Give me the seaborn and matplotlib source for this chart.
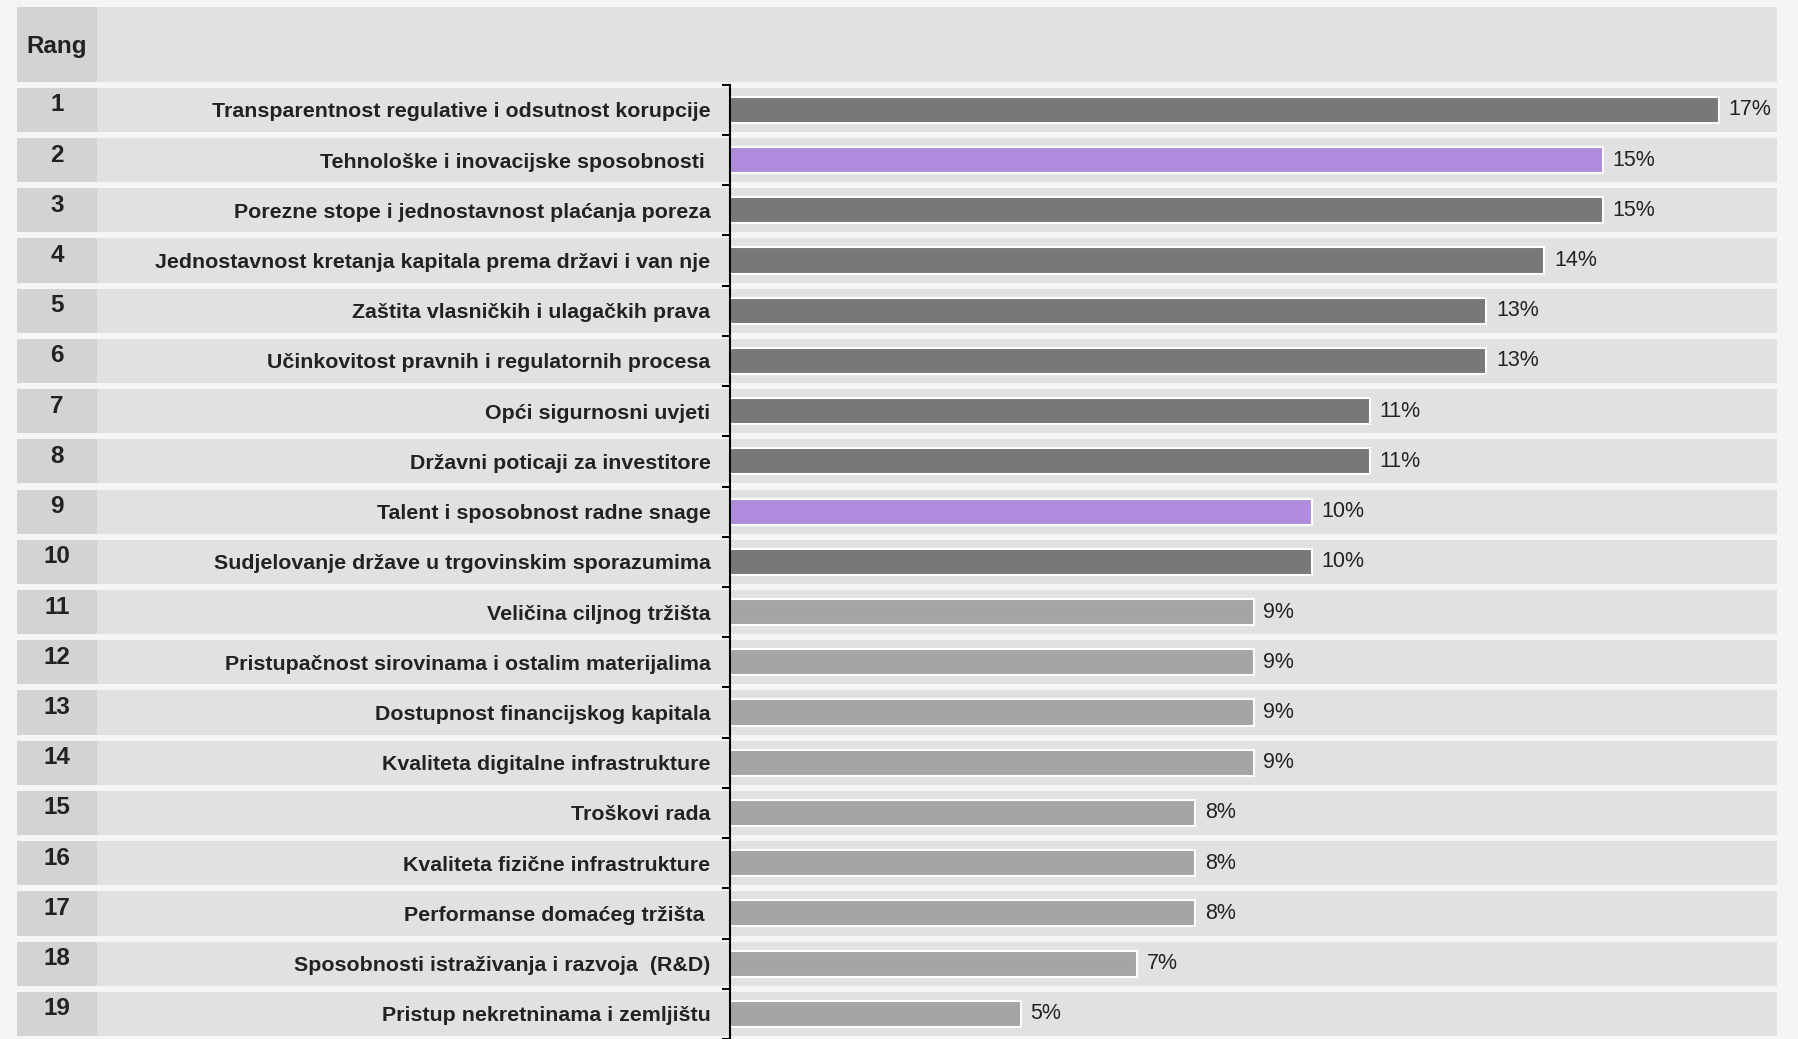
import matplotlib
matplotlib.use("Agg")
import matplotlib.pyplot as plt
import matplotlib.transforms as mtransforms
from matplotlib.patches import Rectangle
import seaborn as sns
import pandas as pd

# Data
ranks = list(range(1, 20))
factors = [
    "Transparentnost regulative i odsutnost korupcije",
    "Tehnološke i inovacijske sposobnosti ",
    "Porezne stope i jednostavnost plaćanja poreza",
    "Jednostavnost kretanja kapitala prema državi i van nje",
    "Zaštita vlasničkih i ulagačkih prava",
    "Učinkovitost pravnih i regulatornih procesa",
    "Opći sigurnosni uvjeti",
    "Državni poticaji za investitore",
    "Talent i sposobnost radne snage",
    "Sudjelovanje države u trgovinskim sporazumima",
    "Veličina ciljnog tržišta",
    "Pristupačnost sirovinama i ostalim materijalima",
    "Dostupnost financijskog kapitala",
    "Kvaliteta digitalne infrastrukture",
    "Troškovi rada",
    "Kvaliteta fizične infrastrukture",
    "Performanse domaćeg tržišta ",
    "Sposobnosti istraživanja i razvoja  (R&D)",
    "Pristup nekretninama i zemljištu",
]
shares = [17, 15, 15, 14, 13, 13, 11, 11, 10, 10, 9, 9, 9, 9, 8, 8, 8, 7, 5]
groups = ["top", "hl", "top", "top", "top", "top", "top", "top", "hl", "top",
          "rest", "rest", "rest", "rest", "rest", "rest", "rest", "rest", "rest"]

group_colors = {"top": "#787878", "hl": "#ad7fea", "rest": "#a5a5a5"}

df = pd.DataFrame({"rank": ranks, "factor": factors, "share": shares, "group": groups})

sns.set_theme(style="white")
plt.rcParams["font.family"] = ["Liberation Sans", "DejaVu Sans"]

W, H = 1798, 1039
fig = plt.figure(figsize=(W / 100, H / 100), dpi=100, facecolor="#f5f5f5")

# axes geometry in pixels
ax_left, ax_right = 730, 1777
ax_top = 84.7
ax = fig.add_axes([ax_left / W, 0, (ax_right - ax_left) / W, 1 - ax_top / H])
ax.set_facecolor("none")

sns.barplot(data=df, x="share", y="factor", hue="group", palette=group_colors,
            dodge=False, width=0.52, edgecolor="white", linewidth=1.5,
            legend=False, ax=ax, zorder=3)

ax.set_xlim(0, 18)
ax.set_ylim(18.36, -0.5)

panel_l, panel_r, rank_r = 17 / W, 1777 / W, 97 / W
blend = mtransforms.blended_transform_factory(fig.transFigure, ax.transData)

# row backgrounds
for i in range(len(df)):
    ax.add_patch(Rectangle((panel_l, i - 0.44), panel_r - panel_l, 0.88,
                           transform=blend, facecolor="#e1e1e1", edgecolor="none",
                           clip_on=False, zorder=0))
    ax.add_patch(Rectangle((panel_l, i - 0.44), rank_r - panel_l, 0.88,
                           transform=blend, facecolor="#d3d3d3", edgecolor="none",
                           clip_on=False, zorder=0.5))
    ax.text((panel_l + rank_r) / 2, i - 0.1, str(df["rank"][i]), transform=blend,
            ha="center", va="center", fontsize=17.5, fontweight="bold", color="#222222")

# header
fig.patches.append(Rectangle((panel_l, 1 - 82 / H), panel_r - panel_l, 75 / H,
                             transform=fig.transFigure, facecolor="#e1e1e1",
                             edgecolor="none", zorder=0))
fig.patches.append(Rectangle((panel_l, 1 - 82 / H), rank_r - panel_l, 75 / H,
                             transform=fig.transFigure, facecolor="#d3d3d3",
                             edgecolor="none", zorder=0.5))
fig.text((panel_l + rank_r) / 2, 1 - 47 / H, "Rang", ha="center", va="center",
         fontsize=17.5, fontweight="bold", color="#222222")

# value labels
for i, v in enumerate(df["share"]):
    ax.annotate(f"{v}%", (v, i), xytext=(7, 0), textcoords="offset points",
                ha="left", va="center", fontsize=15.5, color="#222222", zorder=4)

# axes styling
for s in ["top", "right", "bottom"]:
    ax.spines[s].set_visible(False)
ax.spines["left"].set_color("black")
ax.spines["left"].set_linewidth(1.5)
ax.spines["left"].set_zorder(5)
ax.set_xticks([])
ax.set_xlabel("")
ax.set_ylabel("")
ax.set_yticks(range(len(df)))
ax.set_yticklabels(df["factor"], fontsize=15.4, fontweight="bold", color="#222222")
ax.tick_params(axis="y", which="major", length=0, pad=14)
ax.set_yticks([i - 0.5 for i in range(len(df) + 1)], minor=True)
ax.tick_params(axis="y", which="minor", left=True, length=6, width=1.5, color="black")

fig.savefig("out.png", dpi=100, facecolor=fig.get_facecolor())
